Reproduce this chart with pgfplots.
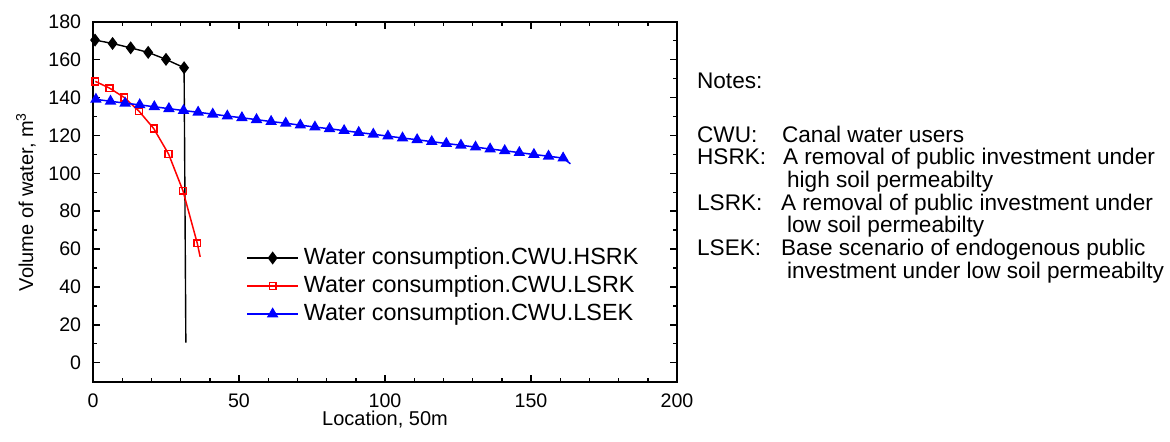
\documentclass[border=0pt]{standalone}
\usepackage{fontspec}
\setmainfont{Liberation Sans}
\usepackage{pgfplots}
\pgfplotsset{compat=1.18}

\begin{document}
\fontsize{9.8}{11.5}\selectfont
\begin{tikzpicture}
\begin{axis}[
    scale only axis,
    width=292pt, height=180pt,
    xmin=0, xmax=200,
    ymin=-10, ymax=180,
    xtick={0,50,...,200},
    ytick={0,20,...,180},
    minor x tick num=4,
    minor y tick num=1,
    tick pos=both,
    tick align=inside,
    major tick length=3.5pt,
    minor tick length=2pt,
    axis line style={line width=0.9pt},
    every tick/.style={black, line width=0.7pt},
    /pgf/number format/assume math mode=true,
    tick label style={font=\fontsize{9.8}{11.5}\selectfont},
    xticklabel style={yshift=-2.5pt},
    yticklabel style={xshift=-2.5pt},
    xlabel={Location, 50m},
    ylabel={Volume of water, m\textsuperscript{3}},
    xlabel style={font=\fontsize{10}{12}\selectfont, at={(axis description cs:0.5,-0.1064)}, anchor=center},
    ylabel style={font=\fontsize{10}{12}\selectfont, at={(axis description cs:-0.115,0.5)}, anchor=center},
    clip=false,
    legend style={draw=none, fill=none, inner sep=0pt,
        font=\fontsize{11.7}{13}\selectfont,
        at={(axis description cs:0.2620,0.2658)}, anchor=west,
        nodes={inner xsep=2.5pt, inner ysep=0.5pt, text height=9.5pt, text depth=3.5pt}},
    legend cell align=left,
    legend image code/.code={\draw[mark repeat=2,mark phase=2,#1] plot coordinates {(0pt,0pt)(12.75pt,0pt)(25.5pt,0pt)};},
]

% HSRK
\addplot[black, line width=0.7pt, mark=diamond*, mark size=2.7pt, mark options={fill=black}]
coordinates {(0.7,170.3)(6.7,168.5)(12.9,166.2)(18.9,163.8)(25.0,160.1)(31.2,155.7)};
\addlegendentry{Water consumption.CWU.HSRK}
\addplot[black, line width=0.7pt, forget plot] coordinates {(31.2,155.7)(31.8,10.6)};

% LSRK
\addplot[red, line width=0.75pt, mark=square, mark size=1.7pt, mark options={fill=white, solid}]
coordinates {(0.8,148.5)(5.7,144.9)(10.7,140.0)(15.8,132.7)(20.8,123.6)(25.9,110.1)(30.8,90.8)(35.7,63.1)};
\addlegendentry{Water consumption.CWU.LSRK}
\addplot[red, line width=0.75pt, forget plot] coordinates {(35.7,63.1)(36.7,55.9)};

% LSEK
\addplot[blue, line width=0.75pt, mark=triangle*, mark size=2.6pt, mark options={fill=blue}]
coordinates {(1,139.0)(6,138.0)(11,137.0)(16,136.1)(21,135.1)(26,134.1)(31,133.1)(36,132.2)
(41,131.2)(46,130.2)(51,129.3)(56,128.3)(61,127.3)(66,126.4)(71,125.4)(76,124.4)(81,123.5)
(86,122.5)(91,121.5)(96,120.6)(101,119.6)(106,118.6)(111,117.7)(116,116.7)(121,115.7)
(126,114.8)(131,113.8)(136,112.8)(141,111.9)(146,110.9)(151,109.9)(156,109.0)(161,108.0)};
\addlegendentry{Water consumption.CWU.LSEK}
\addplot[blue, line width=0.75pt, forget plot] coordinates {(161,108.0)(163.5,105.0)};

\end{axis}

\begin{scope}[every node/.style={anchor=base west, inner sep=0pt, font=\fontsize{11.3}{13}\selectfont}]
\node at (301.85pt,146.35pt) {Notes:};
\node at (301.85pt,119.7pt) {CWU:};
\node at (344.35pt,119.7pt) {Canal water users};
\node at (301.85pt,108.35pt) {HSRK:};
\node at (344.85pt,108.35pt) {A removal of public investment under};
\node at (346.85pt,96.85pt) {high soil permeabilty};
\node at (301.85pt,85.35pt) {LSRK:};
\node at (343.85pt,85.35pt) {A removal of public investment under};
\node at (346.85pt,74.35pt) {low soil permeabilty};
\node at (301.85pt,62.85pt) {LSEK:};
\node at (343.85pt,62.85pt) {Base scenario of endogenous public};
\node at (346.85pt,51.35pt) {investment under low soil permeabilty};
\end{scope}

\pgfresetboundingbox
\path[use as bounding box] (-46.5pt,-30.15pt) rectangle (538.5pt,190.85pt);
\end{tikzpicture}
\end{document}
